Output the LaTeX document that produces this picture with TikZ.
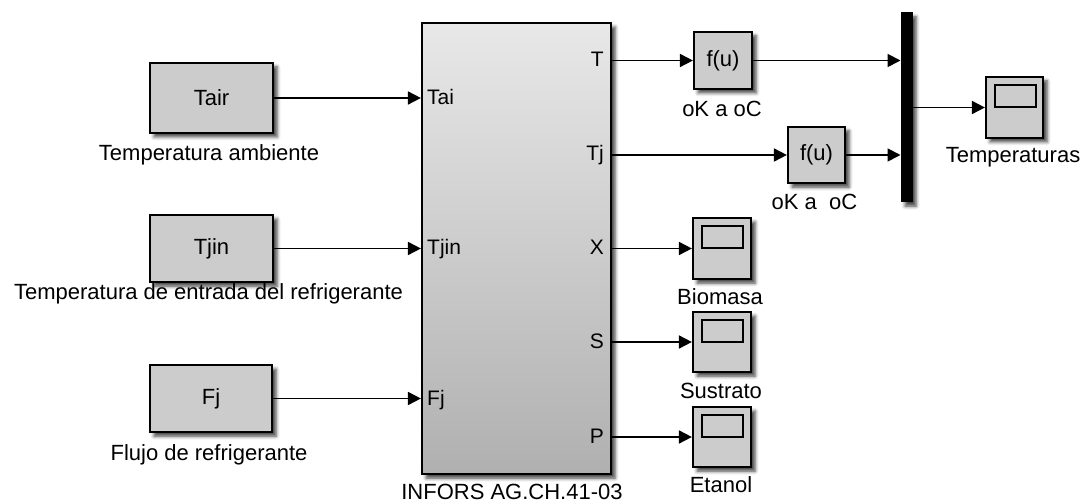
\documentclass[tikz,border=0pt]{standalone}
\usepackage{fontspec}
\setmainfont{Liberation Sans}
\usetikzlibrary{arrows.meta,shadows.blur,calc}
\definecolor{blk}{RGB}{204,204,204}
\definecolor{gtop}{RGB}{232,232,232}
\definecolor{gbot}{RGB}{176,176,176}
\tikzset{
 sh/.style={blur shadow={shadow xshift=4pt,shadow yshift=-4pt,shadow blur radius=3.5pt,shadow opacity=75}},
 blockbox/.style={draw,line width=2.2pt,fill=blk,sh,inner sep=0pt,font=\fontsize{22}{24}\selectfont},
 scopebox/.style={blockbox,path picture={\draw[line width=1.8pt] ([xshift=9pt,yshift=-8pt]path picture bounding box.north west) rectangle ++(41pt,-22pt);}},
 lbl/.style={anchor=base,inner sep=0pt,font=\fontsize{22}{24}\selectfont},
 port/.style={inner sep=0pt,font=\fontsize{21}{24}\selectfont},
 conn/.style={line width=1.8pt,-{Triangle[length=13pt,width=13pt]}},
}
\begin{document}
\begin{tikzpicture}[x=1pt,y=-1pt]
\useasboundingbox (0,0) rectangle (1084,502);
% sources
\node[blockbox,minimum width=123pt,minimum height=70pt] (tair) at (211.5,98) {Tair};
\node[blockbox,minimum width=123pt,minimum height=67pt] (tjin) at (211.5,248.5) {Tjin};
\node[blockbox,minimum width=122pt,minimum height=67pt] (fj) at (211,398.5) {Fj};
% main subsystem
\node[draw,line width=2.2pt,top color=gtop,bottom color=gbot,sh,inner sep=0pt,minimum width=189pt,minimum height=451pt] (main) at (516.5,248.5) {};
% functions
\node[blockbox,minimum width=58pt,minimum height=57pt] (fu1) at (723,60.5) {f(u)};
\node[blockbox,minimum width=57pt,minimum height=56pt] (fu2) at (816.5,155) {f(u)};
% mux
\node[draw,fill=black,line width=1pt,sh,inner sep=0pt,minimum width=11pt,minimum height=189pt] (mux) at (906.5,107.5) {};
% scopes
\node[scopebox,minimum width=57pt,minimum height=61pt] (temps) at (1014.5,107.5) {};
\node[scopebox,minimum width=58pt,minimum height=61pt] (bio) at (722,248.5) {};
\node[scopebox,minimum width=58pt,minimum height=60pt] (sus) at (722,342) {};
\node[scopebox,minimum width=58pt,minimum height=60pt] (eta) at (722,437) {};
% port labels
\node[port,anchor=base west] (pTai) at (427,105) {Tai};
\node[port,anchor=base west] (pTjin) at (427,255) {Tjin};
\node[port,anchor=base west] (pFj) at (427,405) {Fj};
\node[port,anchor=base east] (pT) at (604,67) {T};
\node[port,anchor=base east] (pTj) at (604,161) {Tj};
\node[port,anchor=base east] (pX) at (604,255) {X};
\node[port,anchor=base east] (pS) at (604,349) {S};
\node[port,anchor=base east] (pP) at (604,443) {P};
% block labels
\node[lbl] (ltair) at (209,161) {Temperatura ambiente};
\node[lbl] (ltjin) at (208.5,300) {Temperatura de entrada del refrigerante};
\node[lbl] (lfj) at (209,460) {Flujo de refrigerante};
\node[lbl] (lmain) at (512,499) {INFORS AG.CH.41-03};
\node[lbl] (lfu1) at (722,117) {oK a oC};
\node[lbl] (lfu2) at (814.5,210) {oK a\ \ oC};
\node[lbl] (ltemps) at (1013,163) {Temperaturas};
\node[lbl] (lbio) at (720,305) {Biomasa};
\node[lbl] (lsus) at (721,399) {Sustrato};
\node[lbl] (leta) at (721,492) {Etanol};
% connectors
\draw[conn] (tair.east) -- (tair.east -| main.west);
\draw[conn] (tjin.east) -- (tjin.east -| main.west);
\draw[conn] (fj.east) -- (fj.east -| main.west);
\draw[conn] (main.east |- fu1.west) -- (fu1.west);
\draw[conn] (main.east |- fu2.west) -- (fu2.west);
\draw[conn] (main.east |- bio.west) -- (bio.west);
\draw[conn] (main.east |- sus.west) -- (sus.west);
\draw[conn] (main.east |- eta.west) -- (eta.west);
\draw[conn] (fu1.east) -- (fu1.east -| mux.west);
\draw[conn] (fu2.east) -- (fu2.east -| mux.west);
\draw[conn] (mux.east |- temps.west) -- (temps.west);
\end{tikzpicture}
\end{document}
